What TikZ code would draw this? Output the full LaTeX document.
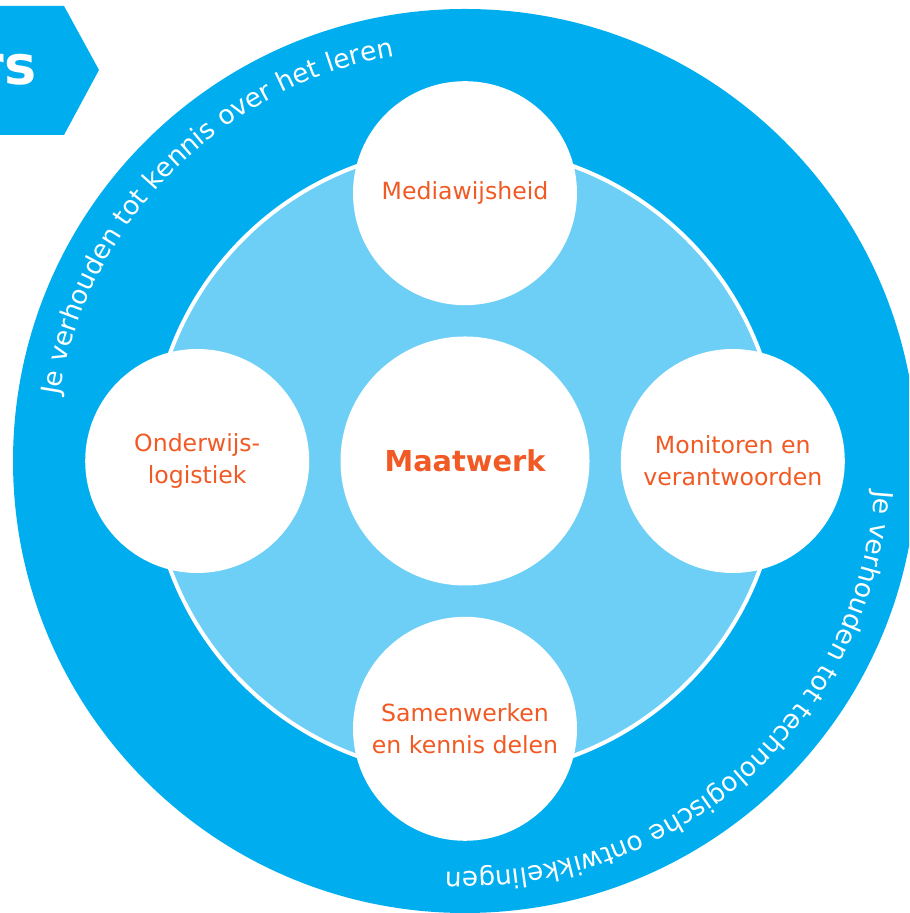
\documentclass[tikz,border=0pt]{standalone}
\usepackage{fontspec}
\setmainfont{DejaVu Sans}
\usetikzlibrary{positioning,decorations.text}
\definecolor{ringblue}{RGB}{0,174,239}
\definecolor{paleblue}{RGB}{109,207,246}
\definecolor{labelorange}{RGB}{241,90,36}

\begin{document}
\begin{tikzpicture}[x=0.5pt,y=0.5pt,node distance=15.25pt,
    topic/.style={circle, fill=white, inner sep=0pt, minimum size=112pt,
      align=center, text=labelorange, font=\fontsize{11.8}{16}\selectfont},
    hub/.style={topic, minimum size=124.5pt, font=\fontsize{14.4}{17}\selectfont\bfseries},
    ringtext/.style={decorate, decoration={text along path, text color=white,
      text align=center, text={|\fontsize{13.2}{15}\selectfont|#1}}}
  ]
  \useasboundingbox (0,0) rectangle (909,913);
  \clip (0,0) rectangle (909,913);

  % tab in the corner
  \fill[ringblue] (-30,907) -- (64,907) -- (99,843) -- (64,778) -- (-30,778) -- cycle;
  \node[anchor=base east, inner sep=0pt, text=white,
    font=\fontsize{27}{27}\selectfont\bfseries] (tab) at (37,828) {rs};

  % ring and disc
  \fill[ringblue] (465,452) circle[radius=452];
  \filldraw[fill=paleblue, draw=white, line width=2pt] (465,452) circle[radius=314];

  % text on the ring
  \path[ringtext={Je verhouden tot kennis over het leren}]
    (465,452) ++(180.4:411) arc[start angle=180.4, end angle=90.4, radius=411];
  \path[ringtext={Je verhouden tot technologische ontwikkelingen}]
    (465,452) ++(2.6:411) arc[start angle=2.6, end angle=-99.4, radius=411];

  % circles
  \node[hub] (maatwerk) at (465,452) {Maatwerk};
  \node[topic, above=of maatwerk] (media) {Mediawijsheid};
  \node[topic, left=of maatwerk] (logistiek) {Onderwijs-\\logistiek};
  \node[topic, right=of maatwerk] (monitor) {Monitoren en\\verantwoorden};
  \node[topic, below=of maatwerk] (samen) {Samenwerken\\en kennis delen};
\end{tikzpicture}
\end{document}
